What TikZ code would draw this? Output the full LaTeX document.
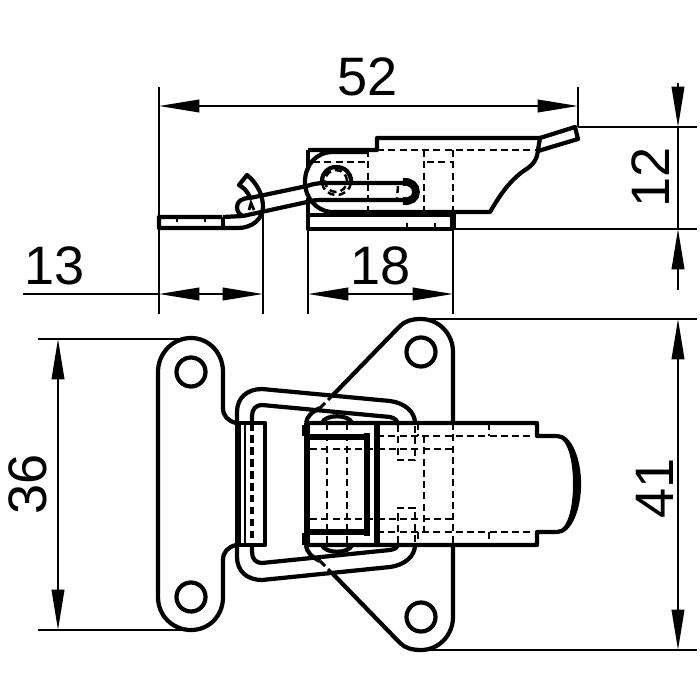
\documentclass[tikz,border=0pt]{standalone}
\usepackage{fontspec}
\setmainfont{Liberation Sans}
\usetikzlibrary{arrows.meta}
\begin{document}
\begin{tikzpicture}[x=0.01cm, y=-0.01cm,
    outline/.style = {line width=1.2pt, line join=round},
    heavy/.style = {line width=1.7pt},
    fine/.style = {line width=0.8pt},
    hidden/.style = {line width=0.7pt, dash pattern=on 2pt off 1.2pt},
    dimline/.style = {line width=0.5pt},
    dimboth/.style = {dimline, {Triangle[length=11.5pt,width=3.6pt]}-{Triangle[length=11.5pt,width=3.6pt]}},
    dimtip/.style = {dimline, -{Triangle[length=11.5pt,width=3.6pt]}},
    hole/.style = {draw, circle, line width=1.2pt, minimum size=0.29cm, inner sep=0pt, outer sep=0pt},
    pin/.style = {draw, circle, hidden, minimum size=0.22cm, inner sep=0pt},
    size/.style = {font=\fontsize{15.4}{16}\selectfont, inner sep=0pt}]
    \useasboundingbox (0,0) rectangle (700,700);

    % top view: latch
    \draw[outline] (308,150) -- (377,150) -- (377,138) -- (540,138) -- (538,150) .. controls (537,160) and (533,165) .. (525,170) .. controls (510,180) and (500,195) .. (490,212) -- (330,212) .. controls (316,210) and (305,198) .. (305,182) .. controls (305,165) and (316,152) .. (333,152) -- (368,152);
    \draw[outline] (308,150) -- (308,170);
    \draw[outline] (540,138) -- (575,127) -- (578,139) -- (538,151);
    \draw[hidden] (377,150) -- (537,150);
    \draw[hidden] (313,162) -- (368,162);
    \draw[hidden] (368,150) -- (368,214);
    \draw[hidden] (424,150) -- (424,214);
    \draw[hidden] (427,162) -- (453,162);
    \draw[hidden] (453,150) -- (453,212);

    % top view: base plate
    \draw[outline] (308,198) -- (308,229) -- (453,229);
    \draw[outline] (308,215) -- (453,215);
    \draw[heavy] (453,212) -- (453,229);
    \draw[fine] (407,223) -- (407,229);
    \draw[fine] (435,223) -- (435,229);

    % top view: wire and pin
    \draw[outline] (250,198) -- (307,186) .. controls (313,184) and (318,183) .. (325,183) -- (403,183);
    \draw[outline] (243,216) -- (307,202) .. controls (313,200) and (318,200) .. (323,200) -- (403,200);
    \draw[outline] (250,198) .. controls (241,198) and (237,202) .. (237,207) .. controls (237,212) and (240,215) .. (243,216);
    \draw[line width=2.2pt] (403,182) .. controls (411,181) and (416,186) .. (416,192) .. controls (416,198) and (411,202) .. (403,201);
    \draw[hidden] (398,186) -- (397,198);
    \draw[outline] (322,181) .. controls (322,173) and (328,167) .. (336,167) .. controls (345,167) and (351,173) .. (351,181);
    \draw[hidden] (351,183) .. controls (350,190) and (344,195) .. (336,195) .. controls (329,195) and (323,190) .. (322,183);
    \node[pin] (pinTop) at (336,181) {};

    % top view: hook plate
    \draw[outline] (222,217) -- (159,217) -- (159,228) -- (238,228) .. controls (252,228) and (263,219) .. (263,207) .. controls (263,196) and (258,184) .. (247,175) -- (239,185) .. controls (244,188) and (247,191) .. (250,197);
    \draw[outline] (223,217) -- (223,228);
    \draw[outline] (223,217) -- (243,216);
    \draw[fine] (177,217) -- (177,222);
    \draw[fine] (205,217) -- (205,222);
    \draw[fine] (249,210) -- (251,203) -- (254,210);

    % plan view: hook plate
    \draw[outline] (236,423) .. controls (228,421) and (223,416) .. (223,408) -- (223,372) .. controls (223,353) and (209,338) .. (191,338) .. controls (173,338) and (158,353) .. (158,372) -- (158,597) .. controls (158,616) and (173,630) .. (191,630) .. controls (209,630) and (223,616) .. (223,597) -- (223,560) .. controls (223,552) and (228,547) .. (236,545);
    \node[hole] (holeA) at (191,372) {};
    \node[hole] (holeB) at (191,597) {};

    % plan view: fold of hook plate
    \draw[outline] (238,423) -- (265,423) -- (265,545) -- (238,545);
    \draw[line width=1.9pt] (238,423) -- (238,545);
    \draw[fine] (245,423) -- (245,545);
    \draw[line width=1.4pt, dash pattern=on 2.2pt off 1.2pt] (252,423) -- (252,545);

    % plan view: wire
    \draw[outline] (237,423) -- (237,412) .. controls (237,398) and (247,389) .. (262,389) -- (390,401) .. controls (405,403) and (415,412) .. (415,423);
    \draw[outline] (252,423) -- (252,416) .. controls (252,409) and (256,405) .. (262,405) -- (390,417) .. controls (395,418) and (398,421) .. (398,425);
    \draw[outline] (237,545) -- (237,557) .. controls (237,571) and (247,580) .. (262,580) -- (390,567) .. controls (405,565) and (415,556) .. (415,545);
    \draw[outline] (252,545) -- (252,552) .. controls (252,559) and (256,563) .. (262,563) -- (390,550) .. controls (395,549) and (398,548) .. (398,543);

    % plan view: base plate
    \draw[outline] (453,423) -- (453,352) .. controls (453,334) and (439,319) .. (421,319) .. controls (412,319) and (405,321) .. (400,326) -- (333,395);
    \draw[outline] (453,545) -- (453,617) .. controls (453,635) and (439,650) .. (421,650) .. controls (412,650) and (405,648) .. (400,643) -- (333,574);
    \draw[hidden, line width=0.9pt] (333,395) -- (320,408);
    \draw[hidden, line width=0.9pt] (333,574) -- (320,561);
    \draw[outline] (320,408) .. controls (312,412) and (307,416) .. (306,423);
    \draw[outline] (320,561) .. controls (312,557) and (307,553) .. (306,545);
    \node[hole] (holeC) at (421,352) {};
    \node[hole] (holeD) at (421,617) {};

    % plan view: latch
    \draw[outline] (307,423) -- (537,423) -- (537,436) -- (557,436) .. controls (570,436) and (579,460) .. (579,484) .. controls (579,508) and (570,532) .. (557,532) -- (537,532) -- (537,545) -- (307,545);
    \fill (557,436) .. controls (570,436) and (580,460) .. (580,484) .. controls (580,508) and (570,532) .. (557,532) .. controls (568,528) and (573,508) .. (573,484) .. controls (573,460) and (568,440) .. cycle;
    \draw[heavy] (307,423) -- (307,545);
    \draw[line width=2.4pt] (306,425) -- (306,436);
    \draw[line width=2.4pt] (306,533) -- (306,545);
    \draw[heavy] (307,437) -- (367,437);
    \draw[heavy] (307,532) -- (367,532);
    \draw[heavy] (367,433) -- (367,536);
    \draw[heavy] (377,423) -- (377,545);

    % plan view: pin caps
    \draw[outline] (322,423) .. controls (325,414) and (349,414) .. (352,423);
    \draw[outline] (322,545) .. controls (325,554) and (349,554) .. (352,545);

    % plan view: hidden edges
    \draw[hidden] (327,423) -- (327,545);
    \draw[hidden] (347,423) -- (347,545);
    \draw[hidden] (377,436) -- (537,436);
    \draw[hidden] (377,532) -- (537,532);
    \draw[hidden] (310,449) -- (453,449);
    \draw[hidden] (310,519) -- (453,519);
    \draw[hidden] (424,436) -- (424,532);
    \draw[hidden] (453,423) -- (453,545);
    \draw[hidden] (398,425) -- (398,460) -- (415,460) -- (415,425);
    \draw[hidden] (398,543) -- (398,508) -- (415,508) -- (415,543);
    \draw[hidden] (418,423) -- (418,436);
    \draw[hidden] (418,532) -- (418,545);
    \draw[hidden] (489,423) -- (489,436);
    \draw[hidden] (489,532) -- (489,545);

    % dimension 52
    \coordinate (extA) at (159,87);
    \coordinate (extB) at (159,314);
    \coordinate (extC) at (578,87);
    \coordinate (extD) at (578,127);
    \coordinate (dimAl) at (159,106);
    \coordinate (dimAr) at (578,106);
    \draw[dimline] (extA) -- (extB);
    \draw[dimline] (extC) -- (extD);
    \draw[dimboth] (dimAl) -- (dimAr);
    \node[size] (lblA) at (368,77) {52};

    % dimension 12
    \coordinate (extE) at (697,127);
    \coordinate (extF) at (697,229);
    \coordinate (extG) at (453,229);
    \coordinate (dimBt) at (678,83);
    \coordinate (dimBu) at (678,127);
    \coordinate (dimBb) at (678,290);
    \coordinate (dimBd) at (678,229);
    \draw[dimline] (extD) -- (extE);
    \draw[dimline] (extG) -- (extF);
    \draw[dimtip] (dimBt) -- (dimBu);
    \draw[dimline] (dimBu) -- (dimBd);
    \draw[dimtip] (dimBb) -- (dimBd);
    \node[size, rotate=90] (lblB) at (651,177) {12};

    % dimension 13
    \coordinate (extH) at (263,207);
    \coordinate (extI) at (263,314);
    \coordinate (dimCs) at (23,294);
    \coordinate (dimCl) at (159,294);
    \coordinate (dimCr) at (263,294);
    \draw[dimline] (extH) -- (extI);
    \draw[dimline] (dimCs) -- (dimCl);
    \draw[dimboth] (dimCl) -- (dimCr);
    \node[size] (lblC) at (55,266) {13};

    % dimension 18
    \coordinate (extJ) at (308,229);
    \coordinate (extK) at (308,314);
    \coordinate (extL) at (453,314);
    \coordinate (dimDl) at (308,294);
    \coordinate (dimDr) at (453,294);
    \draw[dimline] (extJ) -- (extK);
    \draw[dimline] (extG) -- (extL);
    \draw[dimboth] (dimDl) -- (dimDr);
    \node[size] (lblD) at (381,266) {18};

    % dimension 36
    \coordinate (extM) at (38,339);
    \coordinate (extN) at (191,339);
    \coordinate (extO) at (38,630);
    \coordinate (extP) at (191,630);
    \coordinate (dimEt) at (58,339);
    \coordinate (dimEb) at (58,630);
    \draw[dimline] (extM) -- (extN);
    \draw[dimline] (extO) -- (extP);
    \draw[dimboth] (dimEt) -- (dimEb);
    \node[size, rotate=90] (lblE) at (28,484) {36};

    % dimension 41
    \coordinate (extQ) at (421,319);
    \coordinate (extR) at (697,319);
    \coordinate (extS) at (421,650);
    \coordinate (extT) at (697,650);
    \coordinate (dimFt) at (678,319);
    \coordinate (dimFb) at (678,650);
    \draw[dimline] (extQ) -- (extR);
    \draw[dimline] (extS) -- (extT);
    \draw[dimboth] (dimFt) -- (dimFb);
    \node[size, rotate=90] (lblF) at (655,488) {41};
\end{tikzpicture}
\end{document}
